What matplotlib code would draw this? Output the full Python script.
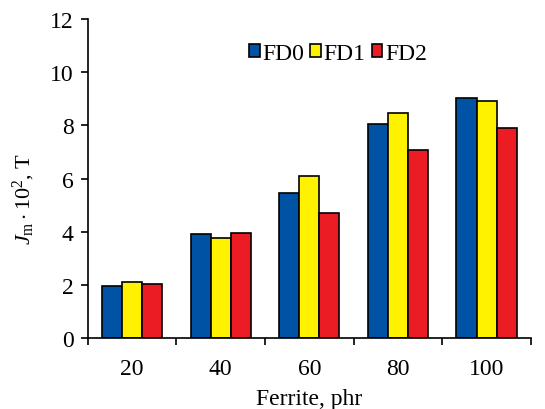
import matplotlib
matplotlib.use("Agg")
import matplotlib.pyplot as plt
import numpy as np

plt.rcParams['font.family'] = ['Liberation Serif', 'DejaVu Serif']
plt.rcParams['mathtext.fontset'] = 'custom'
plt.rcParams['mathtext.rm'] = 'Liberation Serif'
plt.rcParams['mathtext.it'] = 'Liberation Serif:italic'

categories = ["20", "40", "60", "80", "100"]
fd0 = [1.95, 3.9, 5.45, 8.04, 9.02]
fd1 = [2.1, 3.77, 6.08, 8.46, 8.9]
fd2 = [2.03, 3.95, 4.7, 7.07, 7.9]
series = {"FD0": fd0, "FD1": fd1, "FD2": fd2}
colors = {"FD0": "#0052a5", "FD1": "#fff200", "FD2": "#ec1c24"}

fig = plt.figure(figsize=(5.45, 4.1), dpi=100)
ax = fig.add_axes([0.161, 0.173, 0.813, 0.778])

x = np.arange(len(categories))
w = 0.226
for i, (name, vals) in enumerate(series.items()):
    ax.bar(x + (i - 1) * w, vals, w, color=colors[name], edgecolor="black",
           linewidth=1.2, label=name)

ax.set_xlim(-0.5, len(categories) - 0.5)
ax.set_ylim(0, 12)
ax.set_yticks(range(0, 13, 2))
ax.set_xticks(x)
ax.set_xticklabels(categories)
ax.set_xticks(np.arange(len(categories) + 1) - 0.5, minor=True)
ax.tick_params(axis="x", which="major", length=0, pad=14, labelsize=17)
ax.tick_params(axis="x", which="minor", length=5, width=1.2, direction="out")
ax.tick_params(axis="y", length=5, width=1.2, labelsize=17, pad=5)

for s in ["top", "right"]:
    ax.spines[s].set_visible(False)
for s in ["left", "bottom"]:
    ax.spines[s].set_linewidth(1.2)

ax.set_xlabel("Ferrite, phr", fontsize=17, labelpad=7)
ax.set_ylabel(r"$J_{\mathrm{m}}\cdot 10^{2}$, T", fontsize=16)
ax.yaxis.set_label_coords(-0.115, 0.44)

ax.legend(loc="upper center", bbox_to_anchor=(0.565, 0.955), ncol=3, frameon=False,
          fontsize=17, handlelength=0.45, handleheight=0.45, handletextpad=0.12,
          columnspacing=0.25, borderaxespad=0)

fig.savefig("out.png", dpi=100)
